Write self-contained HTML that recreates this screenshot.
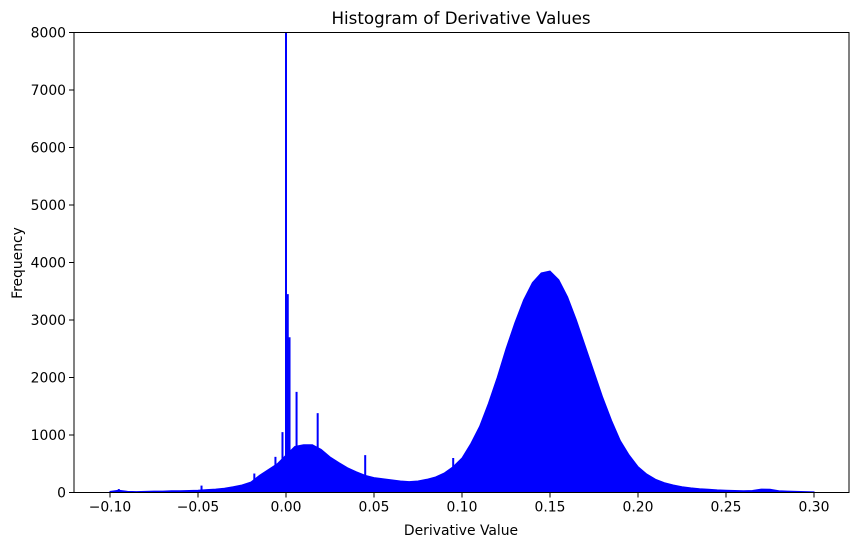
<!DOCTYPE html>
<html><head><meta charset="utf-8"><style>
body{margin:0;background:#fff;}
svg{display:block;font-family:"DejaVu Sans","Liberation Sans",sans-serif;}
</style></head><body>
<svg width="859" height="547" viewBox="0 0 859 547">
<rect width="859" height="547" fill="#fff"/>
<text x="461" y="24" font-size="16.7" text-anchor="middle">Histogram of Derivative Values</text>
<g id="plot"></g>
<g id="axes"></g>
<text x="461" y="535" font-size="13.9" text-anchor="middle">Derivative Value</text>
<text x="22" y="263" font-size="13.9" text-anchor="middle" transform="rotate(-90 22 263)">Frequency</text>
</svg>
<script>
const baseX = [-0.100,-0.095,-0.090,-0.085,-0.080,-0.075,-0.070,-0.065,-0.060,-0.055,-0.050,-0.045,-0.040,-0.035,-0.030,-0.025,-0.020,-0.015,-0.010,-0.005,0.000,0.005,0.010,0.015,0.020,0.025,0.030,0.035,0.040,0.045,0.050,0.055,0.060,0.065,0.070,0.075,0.080,0.085,0.090,0.095,0.100,0.105,0.110,0.115,0.120,0.125,0.130,0.135,0.140,0.145,0.150,0.155,0.160,0.165,0.170,0.175,0.180,0.185,0.190,0.195,0.200,0.205,0.210,0.215,0.220,0.225,0.230,0.235,0.240,0.245,0.250,0.255,0.260,0.265,0.270,0.275,0.280,0.285,0.290,0.295,0.300];
const baseCounts = [20,40,20,15,20,25,25,30,30,35,40,50,60,75,100,130,180,300,400,500,650,800,830,830,750,620,520,430,360,300,260,240,220,200,190,200,230,270,340,450,600,850,1150,1550,2000,2500,2950,3350,3650,3820,3850,3700,3400,3000,2550,2100,1650,1250,900,650,450,320,230,170,130,100,80,65,55,45,40,35,30,35,60,55,30,25,20,15,10];
const spikeX = [0.0000,0.0010,0.0020,0.0060,0.0180,0.0450,-0.0020,-0.0060,-0.0180,-0.0480,0.0950,-0.0950];
const spikeCounts = [8000,3450,2700,1750,1380,650,1050,620,330,120,600,60];
const xTicks = [-0.10,-0.05,0.00,0.05,0.10,0.15,0.20,0.25,0.30];
const xTickLabels = ["\u22120.10","\u22120.05","0.00","0.05","0.10","0.15","0.20","0.25","0.30"];
const yTicks = [0,1000,2000,3000,4000,5000,6000,7000,8000];

const L=74,R=849,T=32.5,B=492.5;
const xs=v=>110+(v+0.10)*1760;
const ys=v=>B-(v/8000)*(B-T);
const NS="http://www.w3.org/2000/svg";
const plot=document.getElementById('plot'), axes=document.getElementById('axes');
function mk(tag,attrs,parent){const e=document.createElementNS(NS,tag);for(const k in attrs)e.setAttribute(k,attrs[k]);parent.appendChild(e);return e;}

let d="M"+xs(baseX[0])+","+B;
baseX.forEach((x,i)=>{d+=" L"+xs(x).toFixed(1)+","+ys(baseCounts[i]).toFixed(1);});
d+=" L"+xs(baseX[baseX.length-1])+","+B+" Z";
const area=mk('path',{d:d,fill:'#0000ff',stroke:'#0000ff','stroke-width':1},plot);


spikeX.forEach((x,i)=>{
  const y=ys(Math.min(spikeCounts[i],8000));
  const r=mk('rect',{x:xs(x)-1,y:y,width:2,height:B-y,fill:'#0000ff'},plot);
  
  
});
const frame=mk('rect',{x:L,y:T,width:R-L,height:B-T,fill:'none',stroke:'#000','stroke-width':1},axes);


xTicks.forEach((v,i)=>{
  const x=xs(v);
  mk('line',{x1:x,y1:B,x2:x,y2:B+5,stroke:'#000'},axes);
  const t=mk('text',{x:x,y:B+19,'font-size':13.9,'text-anchor':'middle'},axes);
  t.textContent=xTickLabels[i];
  
  
});
yTicks.forEach(v=>{
  const y=ys(v);
  mk('line',{x1:L-5,y1:y,x2:L,y2:y,stroke:'#000'},axes);
  const t=mk('text',{x:L-8,y:y+5,'font-size':13.9,'text-anchor':'end'},axes);
  t.textContent=String(v);
  
  
});
</script>
</body></html>
